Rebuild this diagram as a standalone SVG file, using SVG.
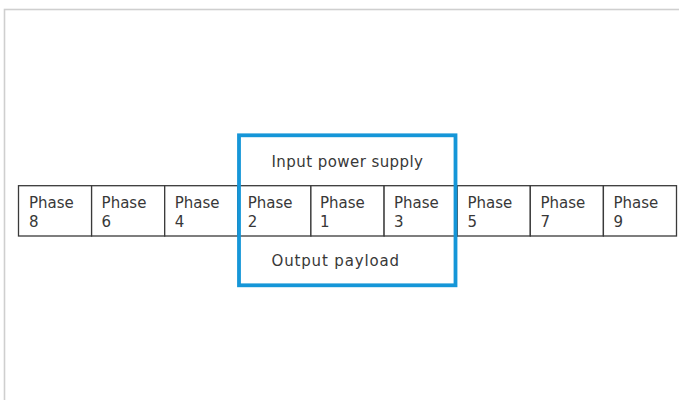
<svg xmlns="http://www.w3.org/2000/svg" width="679" height="400" viewBox="0 0 679 400">
<style>
  .t { font-family: "DejaVu Sans", "Liberation Sans", sans-serif; font-size: 15px; fill: #383838; }
  .cell { fill: #ffffff; stroke: #3a3a3a; stroke-width: 1.3; }
  .frame { fill: none; stroke: #cfcfcf; stroke-width: 1.6; }
  .hl { fill: none; stroke: #1596d8; stroke-width: 3.8; }
</style>
<rect x="0" y="0" width="679" height="400" fill="#ffffff"/>
<rect class="frame" x="4.5" y="9.5" width="690" height="400"/>

<g id="cell-phase8"><rect class="cell" x="18.5" y="185.7" width="73.1" height="50.3"/><text class="t" x="29" y="207.5">Phase</text><text class="t" x="29" y="226.7">8</text></g>
<g id="cell-phase6"><rect class="cell" x="91.6" y="185.7" width="73.1" height="50.3"/><text class="t" x="101.6" y="207.5">Phase</text><text class="t" x="101.6" y="226.7">6</text></g>
<g id="cell-phase4"><rect class="cell" x="164.7" y="185.7" width="73.1" height="50.3"/><text class="t" x="174.7" y="207.5">Phase</text><text class="t" x="174.7" y="226.7">4</text></g>
<g id="cell-phase2"><rect class="cell" x="237.8" y="185.7" width="73.1" height="50.3"/><text class="t" x="247.8" y="207.5">Phase</text><text class="t" x="247.8" y="226.7">2</text></g>
<g id="cell-phase1"><rect class="cell" x="310.9" y="185.7" width="73.2" height="50.3"/><text class="t" x="320" y="207.5">Phase</text><text class="t" x="320" y="226.7">1</text></g>
<g id="cell-phase3"><rect class="cell" x="384.1" y="185.7" width="73.1" height="50.3"/><text class="t" x="394" y="207.5">Phase</text><text class="t" x="394" y="226.7">3</text></g>
<g id="cell-phase5"><rect class="cell" x="457.2" y="185.7" width="73.1" height="50.3"/><text class="t" x="467.5" y="207.5">Phase</text><text class="t" x="467.5" y="226.7">5</text></g>
<g id="cell-phase7"><rect class="cell" x="530.3" y="185.7" width="73.1" height="50.3"/><text class="t" x="540.5" y="207.5">Phase</text><text class="t" x="540.5" y="226.7">7</text></g>
<g id="cell-phase9"><rect class="cell" x="603.4" y="185.7" width="73.1" height="50.3"/><text class="t" x="613.5" y="207.5">Phase</text><text class="t" x="613.5" y="226.7">9</text></g>

<g id="highlight"><rect class="hl" x="239" y="135.3" width="216.5" height="150"/></g>
<g id="label-input"><text class="t" x="271.5" y="166.5" textLength="151.5" lengthAdjust="spacing">Input power supply</text></g>
<g id="label-output"><text class="t" x="271.5" y="266.3" textLength="127.5" lengthAdjust="spacing">Output payload</text></g>
<g id="connectors"></g>
</svg>
